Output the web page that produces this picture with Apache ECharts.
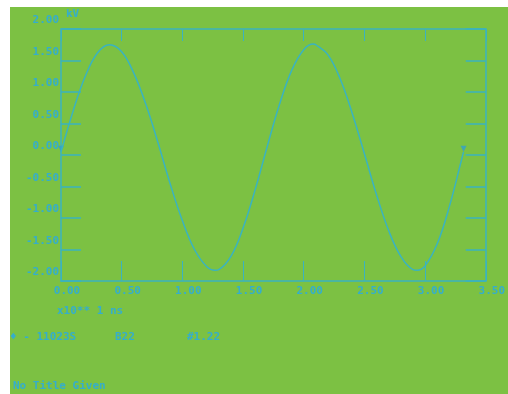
<!DOCTYPE html>
<html>
<head>
<meta charset="utf-8">
<script src="https://cdn.jsdelivr.net/npm/echarts@6/dist/echarts.min.js"></script>
<style>
html,body{margin:0;padding:0;background:#fff;}
#c{width:508px;height:394px;}
</style>
</head>
<body>
<div id="c"></div>
<script>
// time values (x10** 1 ns)
var times = [0.00,0.10,0.20,0.30,0.40,0.50,0.60,0.70,0.80,0.90,1.00,1.10,1.20,1.27,1.30,1.40,1.50,1.60,1.70,1.80,1.90,2.00,2.08,2.10,2.20,2.30,2.40,2.50,2.60,2.70,2.80,2.90,2.935,3.00,3.10,3.20,3.30,3.317];
// waveform values (kV)
var volts = [0.05,0.70,1.25,1.62,1.75,1.64,1.30,0.80,0.19,-0.46,-1.04,-1.50,-1.77,-1.83,-1.82,-1.61,-1.16,-0.55,0.14,0.80,1.34,1.67,1.76,1.75,1.59,1.21,0.66,0.02,-0.63,-1.20,-1.61,-1.82,-1.83,-1.76,-1.41,-0.82,-0.08,0.05];
var xTickLabels = ['0.00','0.50','1.00','1.50','2.00','2.50','3.00','3.50'];
var yTickLabels = ['-2.00','-1.50','-1.00','-0.50','0.00','0.50','1.00','1.50','2.00'];
var unitLabel = 'kV';
var xAxisTitle = 'x10** 1 ns';
var infoTexts = ['\u2666 - 11023S', 'B22', '#1.22'];
var footerText = 'No Title Given';

var FG = '#35aecb';
var LINE = '#3ab3c0';
var FONT = '"DejaVu Sans Mono", monospace';

var wave = times.map(function (t, i) { return [t, volts[i]]; });
var ends = [wave[0], wave[wave.length - 1]];

var chart = echarts.init(document.getElementById('c'));
chart.setOption({
  backgroundColor: '#7cc143',
  animation: false,
  grid: { left: 61, top: 29, right: 16, bottom: 113 },
  xAxis: [{
    type: 'value', min: 0, max: 3.5, interval: 0.5, position: 'bottom',
    axisLine: { show: true, onZero: false, lineStyle: { color: LINE, width: 1.5 } },
    axisTick: { show: true, inside: true, length: 20, lineStyle: { color: LINE, width: 1 } },
    splitLine: { show: false },
    axisLabel: {
      color: FG, fontFamily: FONT, fontSize: 11, fontWeight: 'bold', margin: 5,
      padding: [0, 0, 0, 12],
      formatter: function (v) { return xTickLabels[Math.round(v / 0.5)]; }
    }
  }, {
    type: 'value', min: 0, max: 3.5, interval: 0.5, position: 'top',
    axisLine: { show: true, onZero: false, lineStyle: { color: LINE, width: 1.5 } },
    axisTick: { show: true, inside: true, length: 12, lineStyle: { color: LINE, width: 1 } },
    splitLine: { show: false }, axisLabel: { show: false }
  }],
  yAxis: [{
    type: 'value', min: -2, max: 2, interval: 0.5, position: 'left',
    axisLine: { show: true, onZero: false, lineStyle: { color: LINE, width: 1.5 } },
    axisTick: { show: true, inside: true, length: 20, lineStyle: { color: LINE, width: 1.5 } },
    splitLine: { show: false },
    axisLabel: {
      color: FG, fontFamily: FONT, fontSize: 11, fontWeight: 'bold', margin: 2,
      verticalAlign: 'bottom', padding: [0, 0, 3, 0],
      formatter: function (v) { return yTickLabels[Math.round((v + 2) / 0.5)]; }
    }
  }, {
    type: 'value', min: -2, max: 2, interval: 0.5, position: 'right',
    axisLine: { show: true, onZero: false, lineStyle: { color: LINE, width: 1.5 } },
    axisTick: { show: true, inside: true, length: 20, lineStyle: { color: LINE, width: 1.5 } },
    splitLine: { show: false }, axisLabel: { show: false }
  }],
  series: [{
    type: 'line', data: wave, smooth: 0.4, showSymbol: false, symbol: 'none',
    lineStyle: { color: LINE, width: 1.5 }
  }, {
    type: 'scatter', data: ends, symbol: 'triangle', symbolRotate: 180, symbolSize: 6,
    symbolOffset: [0, -3],
    itemStyle: { color: '#2f9fd0' }
  }],
  graphic: [
    { type: 'rect', shape: { x: 0, y: 0, width: 10, height: 394 }, style: { fill: '#ffffff' }, silent: true },
    { type: 'rect', shape: { x: 0, y: 0, width: 508, height: 7 }, style: { fill: '#ffffff' }, silent: true },
    { type: 'text', left: 66, top: 9, style: { text: unitLabel, fill: FG, font: 'bold 11px ' + FONT } },
    { type: 'text', left: 57, top: 306, style: { text: xAxisTitle, fill: FG, font: 'bold 11px ' + FONT } },
    { type: 'text', left: 10, top: 332, style: { text: infoTexts[0], fill: FG, font: 'bold 11px ' + FONT } },
    { type: 'text', left: 115, top: 332, style: { text: infoTexts[1], fill: FG, font: 'bold 11px ' + FONT } },
    { type: 'text', left: 187, top: 332, style: { text: infoTexts[2], fill: FG, font: 'bold 11px ' + FONT } },
    { type: 'text', left: 13, top: 381, style: { text: footerText, fill: FG, font: 'bold 11px ' + FONT } }
  ]
});
</script>
</body>
</html>
